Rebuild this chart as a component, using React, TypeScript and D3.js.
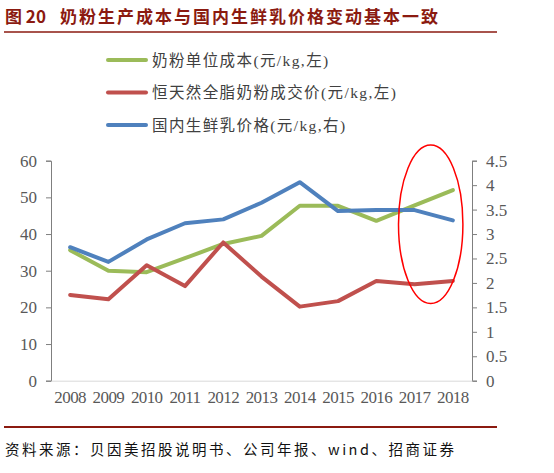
import * as d3 from "d3";
import { useEffect, useRef } from "react";

const years = ["2008", "2009", "2010", "2011", "2012", "2013", "2014", "2015", "2016", "2017", "2018"];
const powderCost = [35.6, 30.0, 29.6, 33.4, 37.3, 39.5, 47.7, 47.7, 43.6, 47.8, 52.0];
const gdtPrice = [23.4, 22.2, 31.5, 25.8, 37.7, 28.4, 20.2, 21.7, 27.2, 26.3, 27.2];
const rawMilkPrice = [2.73, 2.43, 2.89, 3.22, 3.3, 3.64, 4.06, 3.47, 3.49, 3.49, 3.28];
const leftTicks = [0, 10, 20, 30, 40, 50, 60];
const rightTicks = [0, 0.5, 1, 1.5, 2, 2.5, 3, 3.5, 4, 4.5];

const legendItems = [
  { name: "奶粉单位成本(元/kg,左)", color: "#9bbb59" },
  { name: "恒天然全脂奶粉成交价(元/kg,左)", color: "#c0504d" },
  { name: "国内生鲜乳价格(元/kg,右)", color: "#4f81bd" },
];

const App: React.FC = () => {
  const ref = useRef<SVGSVGElement | null>(null);

  useEffect(() => {
    if (!ref.current) return;
    const svg = d3.select(ref.current);
    svg.selectAll("*").remove();

    const cjk = "'Noto Sans CJK SC', sans-serif";
    const serif = "'Liberation Serif', 'Times New Roman', serif";
    const serifCjk = "'Liberation Serif', 'Noto Sans CJK SC', serif";
    const left = 51;
    const right = 472;
    const top = 160.7;
    const bottom = 380.7;

    // title + rules
    svg.append("text").attr("x", 5).attr("y", 23).attr("fill", "#8b1a10")
      .attr("font-family", cjk).attr("font-weight", "bold").attr("font-size", 17)
      .text("图 20");
    svg.append("text").attr("x", 60).attr("y", 23).attr("fill", "#8b1a10")
      .attr("font-family", cjk).attr("font-weight", "bold").attr("font-size", 17)
      .attr("letter-spacing", 2)
      .text("奶粉生产成本与国内生鲜乳价格变动基本一致");
    svg.append("line").attr("x1", 4).attr("x2", 497).attr("y1", 32).attr("y2", 32)
      .attr("stroke", "#8b1a10").attr("stroke-width", 1.6);
    svg.append("line").attr("x1", 4).attr("x2", 497).attr("y1", 427).attr("y2", 427)
      .attr("stroke", "#8b1a10").attr("stroke-width", 2);
    svg.append("text").attr("x", 5).attr("y", 455).attr("fill", "#111")
      .attr("font-family", cjk).attr("font-size", 14.5).attr("letter-spacing", 2.5)
      .text("资料来源：贝因美招股说明书、公司年报、wind、招商证券");

    // legend
    legendItems.forEach((item, i) => {
      const ly = 60 + i * 32.5;
      svg.append("line").attr("x1", 108).attr("x2", 146).attr("y1", ly).attr("y2", ly)
        .attr("stroke", item.color).attr("stroke-width", 4).attr("stroke-linecap", "round");
      svg.append("text").attr("x", 152).attr("y", ly + 5.5).attr("fill", "#404040")
        .attr("font-family", serifCjk).attr("font-size", 15.5).attr("letter-spacing", 1.4).text(item.name);
    });

    const x = d3.scaleBand().domain(years).range([left, right]);
    const xc = (i: number) => (x(years[i]) ?? 0) + x.bandwidth() / 2;
    const yL = d3.scaleLinear().domain([0, 60]).range([bottom, top]);
    const yR = d3.scaleLinear().domain([0, 4.5]).range([bottom, top]);

    // axes
    const gl = svg.append("g").attr("transform", `translate(${left},0)`)
      .call(d3.axisLeft(yL).tickValues(leftTicks).tickSize(5).tickPadding(9));
    gl.select(".domain").attr("stroke", "#7f7f7f");
    gl.selectAll("line").attr("stroke", "#7f7f7f");
    gl.selectAll("text").attr("font-family", serif).attr("font-size", 17).attr("fill", "#595959");

    const gr = svg.append("g").attr("transform", `translate(${right},0)`)
      .call(d3.axisRight(yR).tickValues(rightTicks).tickSize(5).tickPadding(9).tickFormat((d) => String(d)));
    gr.select(".domain").attr("stroke", "#7f7f7f");
    gr.selectAll("line").attr("stroke", "#7f7f7f");
    gr.selectAll("text").attr("font-family", serif).attr("font-size", 17).attr("fill", "#595959");

    const gx = svg.append("g").attr("transform", `translate(0,${bottom})`)
      .call(d3.axisBottom(x).tickSize(0).tickPadding(10));
    gx.select(".domain").attr("stroke", "#d9d9d9");
    gx.selectAll("text").attr("font-family", serif).attr("font-size", 17).attr("fill", "#595959")
      .attr("letter-spacing", -0.6);

    // lines
    const lineL = d3.line<number>().x((_, i) => xc(i)).y((d) => yL(d));
    const lineR = d3.line<number>().x((_, i) => xc(i)).y((d) => yR(d));
    svg.append("path").datum(powderCost).attr("fill", "none").attr("stroke", "#9bbb59")
      .attr("stroke-width", 4).attr("stroke-linejoin", "round").attr("stroke-linecap", "round").attr("d", lineL);
    svg.append("path").datum(gdtPrice).attr("fill", "none").attr("stroke", "#c0504d")
      .attr("stroke-width", 4).attr("stroke-linejoin", "round").attr("stroke-linecap", "round").attr("d", lineL);
    svg.append("path").datum(rawMilkPrice).attr("fill", "none").attr("stroke", "#4f81bd")
      .attr("stroke-width", 4).attr("stroke-linejoin", "round").attr("stroke-linecap", "round").attr("d", lineR);

    // highlight ellipse
    svg.append("ellipse").attr("cx", 430.7).attr("cy", 224.2).attr("rx", 32.2).attr("ry", 79.2)
      .attr("fill", "none").attr("stroke", "#ff0000").attr("stroke-width", 1.5);
  }, []);

  return (
    <svg
      ref={ref}
      width={554}
      height={473}
      style={{ position: "absolute", left: 0, top: 0, background: "#fff" }}
    />
  );
};

export default App;
